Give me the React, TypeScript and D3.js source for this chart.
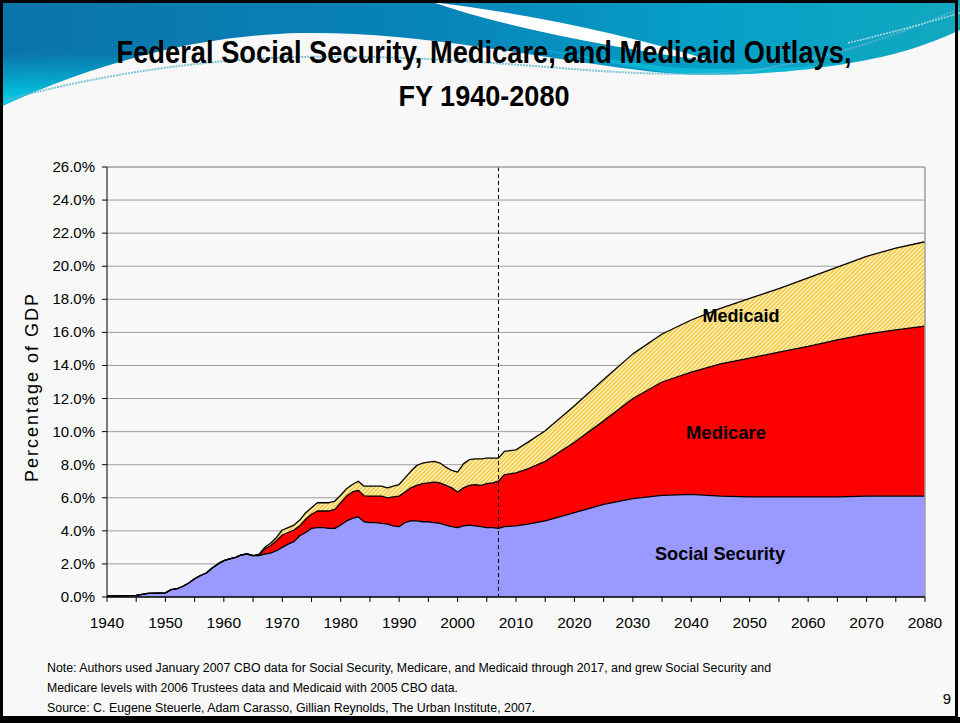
import * as d3 from 'd3';

// fiscal years of the series (Excel area chart categories)
const years = [
  1940, 1945, 1947,
  1950, 1951, 1952, 1953, 1954, 1955, 1956, 1957, 1958, 1959,
  1960, 1961, 1962, 1963, 1964, 1965, 1966, 1967, 1968, 1969,
  1970, 1971, 1972, 1973, 1974, 1975, 1976, 1977, 1978, 1979,
  1980, 1981, 1982, 1983, 1984, 1985, 1986, 1987, 1988, 1989,
  1990, 1991, 1992, 1993, 1994, 1995, 1996, 1997, 1998, 1999,
  2000, 2001, 2002, 2003, 2004, 2005, 2006, 2007, 2008,
  2010, 2012, 2015,
  2020, 2025, 2030, 2035, 2040, 2045, 2050, 2055, 2060, 2065, 2070, 2075, 2080,
];

// % of GDP
const socialSecurity = [
  0.05, 0.1, 0.22,
  0.25, 0.45, 0.5, 0.65, 0.85, 1.1, 1.3, 1.45, 1.75, 2.0,
  2.2, 2.3, 2.4, 2.55, 2.6, 2.5, 2.5, 2.6, 2.65, 2.8,
  3.0, 3.2, 3.35, 3.7, 3.9, 4.15, 4.2, 4.2, 4.15, 4.15,
  4.35, 4.6, 4.75, 4.85, 4.55, 4.5, 4.5, 4.45, 4.4, 4.3,
  4.25, 4.5, 4.6, 4.6, 4.55, 4.55, 4.5, 4.45, 4.35, 4.25,
  4.2, 4.3, 4.35, 4.3, 4.25, 4.2, 4.2, 4.15, 4.25,
  4.3, 4.4, 4.6,
  5.1, 5.6, 5.95, 6.15, 6.2, 6.1, 6.05, 6.05, 6.05, 6.05, 6.1, 6.1, 6.1,
];

const medicare = [
  0, 0, 0,
  0, 0, 0, 0, 0, 0, 0, 0, 0, 0,
  0, 0, 0, 0, 0, 0, 0.05, 0.3, 0.45, 0.6,
  0.75, 0.7, 0.7, 0.6, 0.8, 0.85, 1.0, 1.0, 1.05, 1.15,
  1.35, 1.5, 1.6, 1.6, 1.57, 1.6, 1.6, 1.65, 1.6, 1.75,
  1.85, 1.85, 2.0, 2.15, 2.3, 2.35, 2.45, 2.45, 2.4, 2.35,
  2.15, 2.3, 2.4, 2.5, 2.5, 2.65, 2.7, 2.85, 3.15,
  3.2, 3.35, 3.6,
  4.26, 5.05, 6.05, 6.85, 7.4, 8.0, 8.4, 8.75, 9.1, 9.5, 9.8, 10.05, 10.28,
];

const medicaid = [
  0, 0, 0,
  0, 0, 0, 0, 0, 0, 0, 0, 0, 0,
  0, 0, 0, 0, 0, 0, 0.02, 0.1, 0.15, 0.2,
  0.3, 0.3, 0.3, 0.35, 0.4, 0.4, 0.5, 0.5, 0.5, 0.5,
  0.45, 0.45, 0.45, 0.55, 0.58, 0.6, 0.6, 0.6, 0.6, 0.65,
  0.7, 0.85, 1.0, 1.2, 1.25, 1.25, 1.25, 1.2, 1.1, 1.05,
  1.2, 1.45, 1.55, 1.55, 1.6, 1.55, 1.5, 1.4, 1.4,
  1.4, 1.6, 1.85,
  2.2, 2.5, 2.7, 2.9, 3.15, 3.35, 3.6, 3.85, 4.15, 4.4, 4.7, 4.95, 5.1,
];

const yTicks = [0, 2, 4, 6, 8, 10, 12, 14, 16, 18, 20, 22, 24, 26];
const xLabels = [1940, 1950, 1960, 1970, 1980, 1990, 2000, 2010, 2020, 2030, 2040, 2050, 2060, 2070, 2080];
const xMinorTicks = d3.range(1940, 2081, 5);
const projectionYear = 2007;

const seriesKeys = ['ss', 'mc', 'md'];
const fills: Record<string, string> = { ss: '#9999ff', mc: '#ff0000', md: 'url(#hatch)' };

const noteLines = [
  'Note:  Authors used January 2007 CBO data for Social Security, Medicare, and Medicaid through 2017, and grew Social Security and',
  'Medicare levels with 2006 Trustees data and Medicaid with 2005 CBO data.',
  'Source:  C. Eugene Steuerle, Adam Carasso, Gillian Reynolds, The Urban Institute, 2007.',
];

const narrow = "'Liberation Sans Narrow', 'Arial Narrow', 'Liberation Sans', Arial, sans-serif";
const sans = "'Liberation Sans', Arial, sans-serif";

export default function App() {
  const W = 960;
  const H = 723;
  const plot = { left: 107, right: 925, top: 167, bottom: 597 };

  const x = d3.scaleLinear().domain([1940, 2080]).range([plot.left, plot.right]);
  const y = d3.scaleLinear().domain([0, 26]).range([plot.bottom, plot.top]);

  const table = years.map((yr, i) => ({ year: yr, ss: socialSecurity[i], mc: medicare[i], md: medicaid[i] }));
  const stacked = d3.stack<any>().keys(seriesKeys)(table);

  const area = d3
    .area<any>()
    .x(d => x(d.data.year))
    .y0(d => y(d[0]))
    .y1(d => y(d[1]));
  const topLine = d3
    .line<any>()
    .x(d => x(d.data.year))
    .y(d => y(d[1]));

  return (
    <>
      <style>{'body{margin:0;}'}</style>
      <svg width={W} height={H} style={{ display: 'block' }}>
        <defs>
          <pattern id="hatch" width="3" height="3" patternUnits="userSpaceOnUse" patternTransform="rotate(45)">
            <rect width="3" height="3" fill="#fff4c0" />
            <rect width="1.3" height="3" fill="#f0be2a" />
          </pattern>
          <linearGradient id="bandH" x1="0" y1="0" x2="1" y2="0">
            <stop offset="0" stopColor="#0a74a8" />
            <stop offset="0.45" stopColor="#0784b8" />
            <stop offset="0.75" stopColor="#06a0c8" />
            <stop offset="1" stopColor="#12a8bf" />
          </linearGradient>
          <linearGradient id="bandV" x1="0" y1="0" x2="0" y2="1">
            <stop offset="0.3" stopColor="#00d8ee" stopOpacity="0" />
            <stop offset="1" stopColor="#00dcf0" stopOpacity="0.95" />
          </linearGradient>
        </defs>

        <rect width={W} height={H} fill="#f8f8f8" />

        {/* header wave */}
        <path
          d="M0,0 L960,0 L960,30 C935,42 900,55 850,63 C800,72 740,76 680,74 C620,70 560,58 480,47 C420,38 360,32 300,33 C220,35 120,52 0,107 Z"
          fill="url(#bandH)"
        />
        <path d="M0,30 L300,30 L300,33 C220,35 120,52 0,107 Z" fill="url(#bandV)" />
        <path
          d="M480,40 C560,52 620,66 680,74 C740,76 800,72 850,63 C800,68 740,70 680,68 C620,62 560,52 480,40 Z"
          fill="#10c8e0"
          opacity="0.6"
        />
        <path d="M432,2 Q580,20 716,62 Q570,42 470,14 Q450,8 432,2 Z" fill="#ffffff" />
        <path
          d="M5,100 C80,80 180,60 300,57 C400,55 480,62 560,68 C620,73 680,76 740,72 C820,62 900,35 960,8"
          fill="none"
          stroke="#5fb8cf"
          strokeWidth="2"
          strokeDasharray="2 1"
          opacity="0.8"
        />
        <path d="M848,43 C890,33 930,22 960,13" fill="none" stroke="#a9dbe6" strokeWidth="1.5" strokeDasharray="2 1" />

        {/* title */}
        <text transform="translate(484,63) scale(1,1.2)" textAnchor="middle" fontFamily={narrow} fontWeight="bold" fontSize={26} textLength={735} lengthAdjust="spacingAndGlyphs">
          Federal Social Security, Medicare, and Medicaid Outlays,
        </text>
        <text transform="translate(484,106) scale(1,1.2)" textAnchor="middle" fontFamily={narrow} fontWeight="bold" fontSize={25} textLength={171} lengthAdjust="spacingAndGlyphs">
          FY 1940-2080
        </text>

        {/* gridlines */}
        {yTicks.filter(t => t > 0 && t < 26).map(t => (
          <line key={t} x1={plot.left} x2={plot.right} y1={y(t)} y2={y(t)} stroke="#9e9e9e" strokeWidth={1} />
        ))}

        {/* areas */}
        {stacked.map(s => (
          <path key={s.key} d={area(s) || ''} fill={fills[s.key]} />
        ))}
        {stacked.map(s => (
          <path key={'l' + s.key} d={topLine(s) || ''} fill="none" stroke="#000" strokeWidth={1.3} strokeLinejoin="round" />
        ))}

        {/* projection marker */}
        <line x1={x(projectionYear)} x2={x(projectionYear)} y1={plot.top} y2={plot.bottom} stroke="#000" strokeWidth={1} strokeDasharray="4 3" />

        {/* plot border */}
        <line x1={plot.left} x2={plot.right} y1={plot.top} y2={plot.top} stroke="#a0a0a0" strokeWidth={1.5} />
        <line x1={plot.right} x2={plot.right} y1={plot.top} y2={plot.bottom} stroke="#a0a0a0" strokeWidth={1.5} />

        {/* axes */}
        <line x1={plot.left} x2={plot.left} y1={plot.top} y2={plot.bottom} stroke="#000" strokeWidth={1} />
        <line x1={plot.left} x2={plot.right} y1={plot.bottom} y2={plot.bottom} stroke="#000" strokeWidth={1.5} />
        {yTicks.map(t => (
          <g key={t}>
            <line x1={plot.left - 5} x2={plot.left} y1={y(t)} y2={y(t)} stroke="#000" />
            <text x={95} y={y(t) + 5} textAnchor="end" fontFamily={sans} fontSize={15} fill="#000">
              {t.toFixed(1) + '%'}
            </text>
          </g>
        ))}
        {xMinorTicks.map(t => (
          <line key={t} x1={x(t)} x2={x(t)} y1={plot.bottom} y2={plot.bottom + 5} stroke="#000" />
        ))}
        {xLabels.map(t => (
          <text key={t} x={x(t)} y={628} textAnchor="middle" fontFamily={sans} fontSize={15.5} fill="#000">
            {t}
          </text>
        ))}

        <text transform="translate(38,387) rotate(-90)" textAnchor="middle" fontFamily={sans} fontSize={18} letterSpacing={2} fill="#000">
          Percentage of GDP
        </text>

        {/* series labels */}
        <text x={741} y={322} textAnchor="middle" fontFamily={narrow} fontWeight="bold" fontSize={19} textLength={77} lengthAdjust="spacingAndGlyphs">Medicaid</text>
        <text x={726} y={439} textAnchor="middle" fontFamily={narrow} fontWeight="bold" fontSize={19} textLength={80} lengthAdjust="spacingAndGlyphs">Medicare</text>
        <text x={720} y={560} textAnchor="middle" fontFamily={narrow} fontWeight="bold" fontSize={19} textLength={130} lengthAdjust="spacingAndGlyphs">Social Security</text>

        {/* notes */}
        {noteLines.map((line, i) => (
          <text key={i} x={47} y={672 + i * 20} fontFamily={narrow} fontSize={12.5} fill="#000" textLength={[724, 411, 488][i]} lengthAdjust="spacingAndGlyphs">
            {line}
          </text>
        ))}
        <text x={947} y={704} textAnchor="middle" fontFamily={sans} fontSize={15}>9</text>

        {/* slide frame */}
        <rect x={1.5} y={1.5} width={955} height={716} fill="none" stroke="#000" strokeWidth={3} />
        <rect x={0} y={717} width={W} height={6} fill="#000" />
      </svg>
    </>
  );
}
